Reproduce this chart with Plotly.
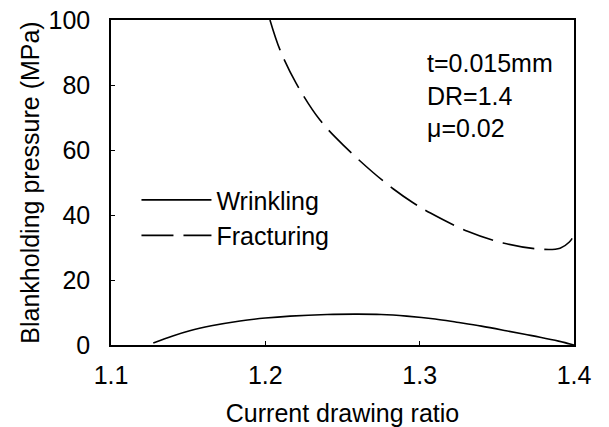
import plotly.graph_objects as go

# Wrinkling limit curve
wr_x = [1.1274, 1.140, 1.151, 1.165, 1.1836, 1.200, 1.216, 1.240, 1.259, 1.275, 1.2916, 1.310, 1.324, 1.340, 1.356, 1.368, 1.378, 1.390, 1.400]
wr_y = [0.6, 2.8, 4.4, 5.9, 7.4, 8.3, 8.9, 9.4, 9.5, 9.4, 8.9, 8.0, 7.0, 5.8, 4.4, 3.3, 2.4, 1.2, 0.0]

# Fracturing limit curve
fr_x = [1.203, 1.2095, 1.220, 1.2354, 1.2527, 1.270, 1.283, 1.295, 1.307, 1.331, 1.354, 1.378, 1.391, 1.397, 1.400]
fr_y = [100.0, 90.8, 80.5, 69.2, 60.5, 53.0, 48.0, 44.0, 40.6, 35.0, 31.4, 29.5, 29.8, 31.7, 33.8]

x_ticks = [1.1, 1.2, 1.3, 1.4]
y_ticks = [0, 20, 40, 60, 80, 100]

FONT = "Liberation Sans, Arial, Helvetica, sans-serif"
FS = 25

fig = go.Figure()
fig.add_trace(go.Scatter(x=wr_x, y=wr_y, mode="lines", name="Wrinkling",
                         line=dict(color="black", width=1.6, shape="spline")))
fig.add_trace(go.Scatter(x=fr_x, y=fr_y, mode="lines", name="Fracturing",
                         line=dict(color="black", width=1.6, dash="32px,10px", shape="spline")))

fig.add_annotation(x=1.3035, y=76.9, xref="x", yref="y", xanchor="left", yanchor="middle",
                   text="t=0.015mm<br>DR=1.4<br>\u03bc=0.02", showarrow=False, align="left",
                   font=dict(family=FONT, size=FS, color="black"))

axis_common = dict(showline=True, linecolor="black", linewidth=1.5, mirror=True,
                   ticks="inside", ticklen=4, tickcolor="black", showgrid=False, zeroline=False,
                   automargin=False,
                   tickfont=dict(family=FONT, size=FS, color="black"))

fig.update_xaxes(range=[1.1, 1.4], tickvals=x_ticks, ticktext=[f"{v:.1f}" for v in x_ticks],
                 title=dict(text="Current drawing ratio", font=dict(family=FONT, size=FS, color="black"), standoff=24),
                 ticklabelstandoff=7, **axis_common)
fig.update_yaxes(range=[0, 100], tickvals=y_ticks,
                 title=dict(text="Blankholding pressure (MPa)", font=dict(family=FONT, size=FS, color="black"), standoff=2),
                 ticklabelstandoff=14, **axis_common)

fig.update_layout(
    width=609, height=427,
    margin=dict(l=111, r=35, t=20, b=82),
    paper_bgcolor="white", plot_bgcolor="white",
    showlegend=True,
    legend=dict(x=0.055, y=0.392, xanchor="left", yanchor="middle", bgcolor="rgba(0,0,0,0)",
                font=dict(family=FONT, size=FS, color="black"), itemwidth=70,
                tracegroupgap=0),
    font=dict(family=FONT, color="black"),
)

fig.write_html("out.html")
